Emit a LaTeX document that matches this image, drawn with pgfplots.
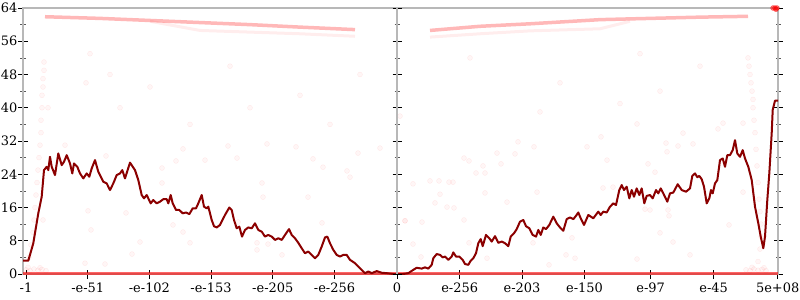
\documentclass[border=0pt]{standalone}
\usepackage{pgfplots}
\pgfplotsset{compat=1.18}
\usepackage{fontspec}
\setmainfont{DejaVu Serif}
\definecolor{axgray}{HTML}{B8B8B8}
\definecolor{linered}{HTML}{8B0000}
\begin{document}
\fontsize{13}{15}\selectfont
\begin{tikzpicture}
\pgfplotsset{
  common/.style={scale only axis, height=266bp, ymin=0, ymax=64,
   ytick={0,8,...,64}, minor y tick num=1, tick align=center,
   major tick length=9bp, minor tick length=5bp,
   major tick style={black, line width=0.8bp},
   minor tick style={black!65, line width=0.6bp},
   axis line style={axgray, line width=1.5bp},
   /pgf/number format/assume math mode=true,
   tick label style={font=\fontsize{13}{15}\selectfont},
   yticklabel style={inner xsep=0pt, xshift=-1bp}},
  pts/.style={only marks, mark=*, mark size=2.5bp,
   mark options={draw=red, fill=red, draw opacity=0.07, fill opacity=0.035}}
}
\begin{axis}[common, name=main, at={(0,0)}, anchor=south west, width=755bp,
  xmin=23, xmax=778, xtick pos=bottom,
  xtick={26,87.7,149.4,211,272.8,334.5,397,459.7,522,584.5,650.7,713.7,777.7},
  xticklabels={-1,-e-51,-e-102,-e-153,-e-205,-e-256,0,e-256,e-203,e-150,e-97,e-45,5e+08}]
% bands of points
\addplot[red, opacity=0.28, line width=3.5bp] coordinates {(45,61.9) (100,61.5) (150,61.0) (200,60.5) (250,60.0) (300,59.4) (355,58.8)};
\addplot[red, opacity=0.07, line width=3bp] coordinates {(150,60.8) (200,58.6) (250,58.2) (300,57.8) (355,57.2)};
\addplot[red, opacity=0.28, line width=3.5bp] coordinates {(430,58.6) (480,59.6) (530,60.2) (600,61.2) (650,61.5) (700,61.8) (748,62.0)};
\addplot[red, opacity=0.07, line width=3bp] coordinates {(430,57.0) (480,57.8) (530,58.5) (600,59.0) (630,60.8)};
\addplot[red, opacity=0.6, line width=3.5bp] coordinates {(23,0) (778,0)};
% columns
\addplot[pts] coordinates {(44,51)(44,49)(43,47)(43,45)(42,43)(42,40)(41,37)(41,34)(40,31)(39,28)(38,25)(37,22)(36,19)(35,16)(34,13)(33,10)(31,7)(29,4)
 (748,52)(749,50)(750,48)(751,46)(752,44)(753,42)(753,40)(754,37)(755,34)(756,30)(757,26)(758,22)(759,18)(760,15)(761,12)(761,9)(760,6)(758,3)};
% bottom clusters
\addplot[pts] coordinates {(26,1)(30,0.8)(34,1.2)(38,0.9)(42,1.1)(46,0.8)(28,1.6)(40,1.5)
 (746,1)(750,0.8)(754,1.2)(758,0.9)(762,1.1)(766,0.8)(752,1.6)(764,1.5)};
% scattered points
\addplot[pts] coordinates {(65,31.0)(106,28.4)(183,30.1)(176,27.2)(162,25.5)(88,15.2)(91,10.6)(126,14.7)(43,13)(162,21.9)(173,11.8)(183,10.1)(190,7.5)(140,7.7)(132,4.8)(105,2.4)(85,2.6)(205,27.4)
 (228,30.8)(267,31.3)(296,30.6)(237,27.9)(313,27.7)(323,25.7)(358,29.1)(380,30.3)(347,24.8)(350,23.3)(262,21.9)(263,18.5)(308,18.5)(322,12.3)(405,12.8)(257,7.5)(257,5.8)(268,7.2)(282,4.6)(238,12.5)
 (518,31.8)(534,30.6)(497,29.1)(515,28.9)(464,27.9)(469,27.2)(483,26)(501,26.5)(476,24.3)(485,24.3)(413,21.7)(430,22.4)(439,22.4)(449,22.1)(453,22.1)(440,19.2)(485,19.5)(537,19.7)(435,17.1)(447,16.1)(454,15.9)(507,17.3)(405,12.8)(422,12.5)(464,13)(469,7.5)(413,7.2)(421,4.1)(487,3.8)(533,7.5)(566,4.6)(575,3.8)(549,2.2)(572,8.7)
 (637,36.1)(601,33.0)(587,30.6)(607,27.4)(666,31.5)(683,33.9)(693,31.3)(678,30.8)(667,29.4)(648,26.5)(655,24.5)(723,36.3)(743,36.3)(718,34.9)(613,20.9)(603,20.7)(645,15.6)(650,15.4)(668,15.4)(669,14.0)(660,9.9)(673,7.7)(690,4.6)(729,11.8)(743,19.7)(637,3.6)
 (150,45)(230,50)(300,43)(120,40)(360,48)(470,52)(560,46)(620,41)(700,50)(86,46)(48,40)(190,36)(400,38)(540,39)(660,44)(330,36)(250,40)(90,53)(640,53)(110,48)};
\addplot[only marks, mark=*, mark size=2.5bp, mark options={draw=red, fill=red, draw opacity=0.5, fill opacity=0.5}] coordinates {(773,64)(775,64)(777,64)(776,63.7)};
% main line
\addplot[linered, line width=2bp, line join=round] coordinates {
(23,3.2)(28.3,3.2)(33.3,7.4)(38.3,14.6)(41.7,18.6)(44,25.0)(46.7,25.8)(48.3,25)(50,28.2)(51.7,25.8)(55,23.8)(58.3,29.0)(61.7,26.2)(64,27.0)(66.7,28.6)(70,26.6)(72.3,24.2)(74,26.6)(77.3,25.8)(80,24.2)(83.3,23.0)(86.7,24.2)(89.3,23.4)(91.7,25.4)(95,27.4)(98.3,24.6)(103.3,22.2)(106.7,21.8)(110,20.2)(113.3,21.8)(116.7,23.8)(120,24.2)(122.3,25.0)(125,23.0)(130,26.8)(135,25.0)(138.3,22.6)(141.7,19.0)(144,18.2)(146.7,19.0)(150.7,17.0)(153.3,17.8)(156.7,17.0)(160,17.4)(163.3,18.0)(166.7,18.0)(168.3,17.0)(170.7,19.0)(172.7,17.0)(176,15.4)(179.3,15.4)(182.7,14.6)(186,14.8)(189.3,14.4)(192.7,15.8)(196,15.8)(198.3,17.0)(201.7,19.0)(204,16.2)(206.7,15.8)(208.3,16.2)(211.7,13.0)(214,11.5)(216.7,11.2)(220,11.8)(225,14.2)(229.3,16.0)(231.7,15.4)(234,13.0)(236.7,11.0)(239.3,11.4)(242,9.0)(245,10.6)(248.3,11.2)(251.7,11.0)(255,12.2)(258.3,10.6)(261.7,10.2)(265,9.0)(268.3,9.4)(271.7,9.0)(275,8.2)(278.3,8.6)(281.7,8.2)(285,9.4)(289,10.8)(291.7,9.4)(295,8.6)(298.3,7.5)(301.7,6.2)(305,5.0)(308.3,5.4)(311.7,4.6)(315,3.8)(318.3,4.6)(321.7,6.6)(325,8.8)(327.3,9.0)(330,7.4)(333.3,5.8)(336.7,4.6)(340,4.2)(343.3,4.6)(346.7,4.6)(350,3.4)(355,2.6)(360,1.4)(365,0.2)(368.3,0.6)(371.7,0.2)(376.7,0.7)(381.7,0.3)(386.7,0.2)(393.3,0)(403.3,0)(408.3,0.2)(413.3,1.0)(416.7,1.5)(421.7,1.3)(425,1.6)(428.3,1.3)(431.7,2.2)(433.3,3.8)(436.7,4.8)(440,4.6)(442.7,4.0)(445,4.2)(448.3,3.4)(451.7,4.2)(453.3,5.2)(456,4.2)(459.3,4.2)(462.7,3.4)(465,2.4)(468.3,2.2)(470.7,3.2)(473.3,3.8)(476,5.0)(478.3,7.4)(480.7,8.4)(482.7,6.7)(486,9.4)(489.3,8.6)(491.7,7.8)(495,9.1)(498.3,7.5)(501.7,7.8)(505,7.4)(508.3,6.7)(510.7,9.0)(514,9.8)(516.7,10.8)(520,12.6)(523.3,13.0)(526,11.5)(529.3,11.0)(532.7,9.4)(536,9.0)(538.3,10.6)(540.7,9.4)(543.3,11.2)(546,10.8)(549.3,11.8)(553.3,13.8)(556.7,12.2)(560,11.2)(563.3,10.4)(566.7,13.2)(570,13.6)(573.3,13.2)(576,14.0)(578.3,14.8)(580.7,13.4)(584,11.8)(588.3,14.2)(593.3,13.4)(598.3,15.0)(600.7,14.2)(603.3,15.0)(606.7,14.8)(610,16.2)(613.3,17.0)(616,16.6)(619.3,20.2)(621.7,21.4)(624,20.2)(626.7,21.0)(629.3,18.2)(631.7,20.2)(634,18.6)(636.7,20.6)(639.3,19.0)(641.7,20.6)(644.3,17.0)(646.7,18.8)(650,19.0)(652.7,18.2)(656,20.2)(658.3,19.4)(660.7,20.6)(663.3,19.4)(667.3,17.4)(670,19.4)(673.3,19.6)(677.7,21.6)(681.7,20.2)(686,19.8)(690,20.6)(692.3,23.6)(695,24.2)(697.3,23.3)(699.3,23.6)(701.7,22.8)(704,21.0)(706.7,17.0)(709.3,18.2)(711,20.2)(712.7,19.4)(715,21.8)(717.3,22.6)(720,27.4)(722.7,27.8)(725,25.8)(727.3,28.6)(730,28.6)(732.7,29.8)(735,32.2)(737.3,29.0)(740,28.2)(742.7,29.8)(745,27.8)(748.3,25.8)(751.7,22.6)(755,16.2)(758.3,12.2)(760.7,9.0)(763.3,6.2)(765,9.0)(767.3,17.8)(769.3,24.2)(771.7,33.9)(772.7,39.5)(775,41.7)(778,41.7)};
\end{axis}
\begin{axis}[common, at={(374bp,0)}, anchor=south west, width=381bp,
  xmin=397, xmax=778, axis x line=none, axis y line*=left, yticklabels={}]
\end{axis}
\pgfresetboundingbox
\path (-23bp,-26bp) rectangle (777bp,274bp);
\end{tikzpicture}
\end{document}
